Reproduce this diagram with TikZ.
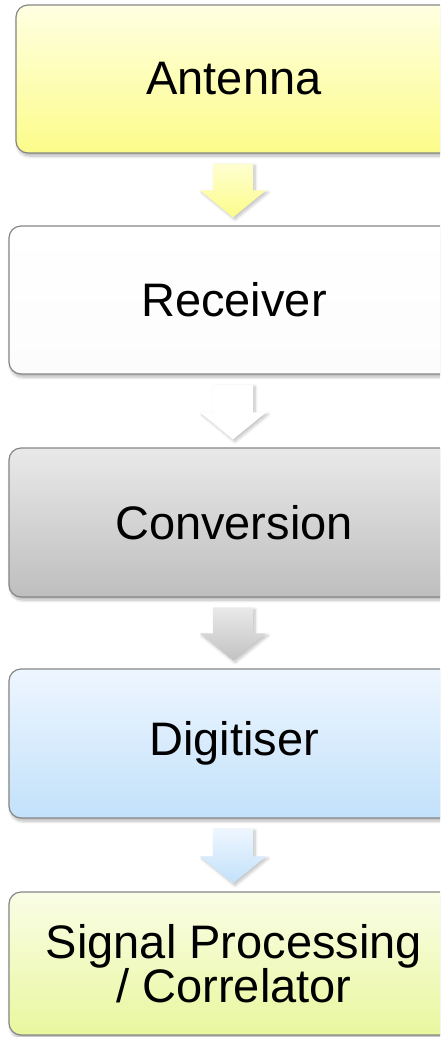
\documentclass[tikz,border=0pt]{standalone}
\usepackage{fontspec}
\setmainfont{Liberation Sans}
\usetikzlibrary{calc,shadows.blur}

\definecolor{boxedge}{HTML}{868686}
\definecolor{yelTop}{HTML}{FFFFE2}
\definecolor{yelBot}{HTML}{FCFC8A}
\definecolor{whiTop}{HTML}{FFFFFF}
\definecolor{whiBot}{HTML}{FCFCFC}
\definecolor{gryTop}{HTML}{E9E9E9}
\definecolor{gryBot}{HTML}{BEBEBE}
\definecolor{bluTop}{HTML}{EEF6FF}
\definecolor{bluBot}{HTML}{C2E1FA}
\definecolor{grnTop}{HTML}{FAFDE6}
\definecolor{grnBot}{HTML}{E9F79E}

% block arrow from the bottom of one stage to the top of the next
\newcommand{\flowarrow}[4]{%
  \path[flowshape, top color=#3, bottom color=#4]
    let \p1 = ($(#1.south)+(-1,10)$), \p2 = ($(#2.north)+(-1,-8)$) in
    (\x1-20pt,\y1) -- (\x1+20pt,\y1) -- (\x1+20pt,\y2+27pt) -- (\x1+33pt,\y2+27pt)
    -- (\x1,\y2) -- (\x1-33pt,\y2+27pt) -- (\x1-20pt,\y2+27pt) -- cycle;}

\begin{document}
\begin{tikzpicture}[x=1pt, y=-1pt,
  stage/.style={draw=boxedge, line width=1.2pt, rounded corners=12pt,
    minimum height=148pt, minimum width=450pt, inner sep=0pt, align=center,
    shading=axis, font=\fontsize{47}{44}\selectfont,
    blur shadow={shadow xshift=1.5pt, shadow yshift=-3pt,
      shadow blur steps=6, shadow blur radius=3pt, shadow opacity=30}},
  flowshape/.style={shading=axis,
    blur shadow={shadow xshift=2pt, shadow yshift=-2pt,
      shadow blur steps=6, shadow blur radius=3pt, shadow opacity=25}}]

\useasboundingbox (0,0) rectangle (440,1037);
\clip (0,0) rectangle (440,1037);

\node[stage, minimum width=436pt, top color=yelTop, bottom color=yelBot] (ant) at (234,79) {Antenna};
\node[stage, top color=whiTop, bottom color=whiBot] (rec) at (234,300) {Receiver};
\node[stage, minimum height=149pt, top color=gryTop, bottom color=gryBot] (con) at (234,522.5) {Conversion};
\node[stage, minimum height=149pt, top color=bluTop, bottom color=bluBot] (dig) at (234,743.5) {Digitiser};
\node[stage, minimum height=143pt, top color=grnTop, bottom color=grnBot] (sig) at (234,963.5) {Signal Processing\\/ Correlator};

\flowarrow{ant}{rec}{yelTop!80!yelBot}{yelBot}
\flowarrow{rec}{con}{white}{white}
\flowarrow{con}{dig}{gryTop}{gryBot!90!gryTop}
\flowarrow{dig}{sig}{bluTop}{bluBot}
\end{tikzpicture}
\end{document}
